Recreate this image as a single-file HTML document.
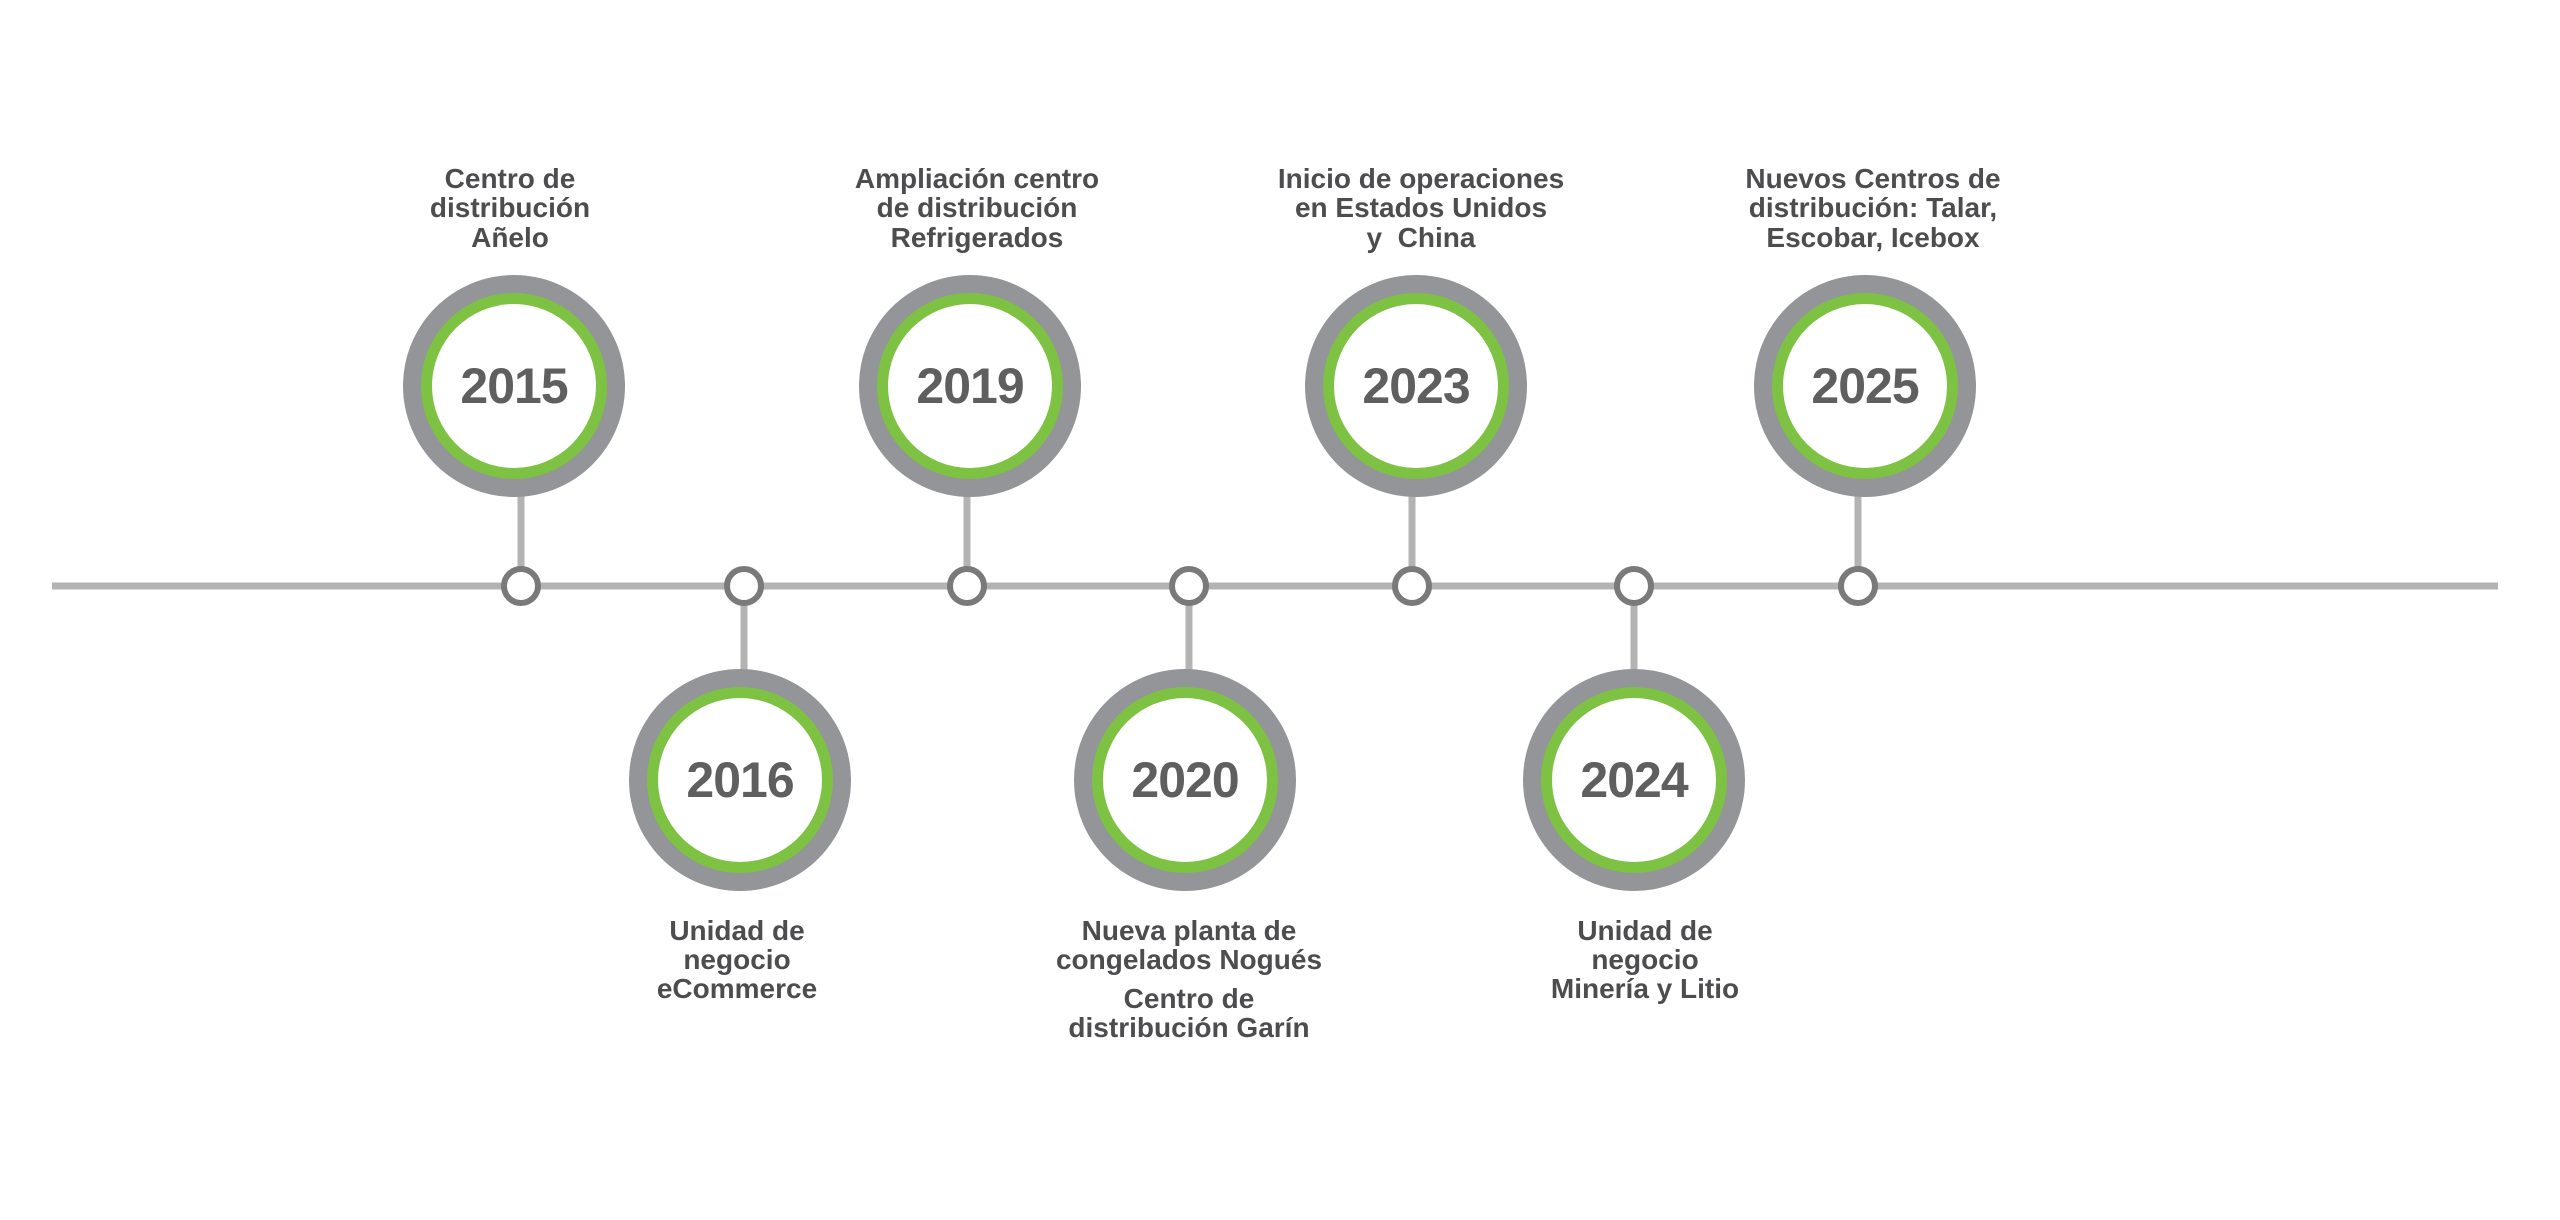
<!DOCTYPE html>
<html><head><meta charset="utf-8"><style>
html,body{margin:0;padding:0;background:#fff;}
svg{display:block;}
.lbl{font-family:"Liberation Sans",sans-serif;font-weight:bold;font-size:28px;fill:#4d4d4f;text-anchor:middle;white-space:pre;}
.yr{font-family:"Liberation Sans",sans-serif;font-weight:bold;font-size:50px;fill:#5f5f60;text-anchor:middle;letter-spacing:-1px;}
</style></head><body>
<svg width="2560" height="1220" viewBox="0 0 2560 1220" xmlns="http://www.w3.org/2000/svg">
<rect width="2560" height="1220" fill="#fff"/>
<line x1="52" y1="586" x2="2498" y2="586" stroke="#b3b3b3" stroke-width="7"/>
<g stroke="#b3b3b3" stroke-width="7">
<line x1="521" y1="495" x2="521" y2="570"/>
<line x1="967" y1="495" x2="967" y2="570"/>
<line x1="1412" y1="495" x2="1412" y2="570"/>
<line x1="1858" y1="495" x2="1858" y2="570"/>
<line x1="744" y1="602" x2="744" y2="672"/>
<line x1="1189" y1="602" x2="1189" y2="672"/>
<line x1="1634" y1="602" x2="1634" y2="672"/>
</g>
<g fill="#fff" stroke="#7a7a7a" stroke-width="6">
<circle cx="521" cy="586" r="17"/>
<circle cx="744" cy="586" r="17"/>
<circle cx="967" cy="586" r="17"/>
<circle cx="1189" cy="586" r="17"/>
<circle cx="1412" cy="586" r="17"/>
<circle cx="1634" cy="586" r="17"/>
<circle cx="1858" cy="586" r="17"/>
</g>
<g>
<g transform="translate(514,386)"><circle r="111" fill="#939598"/><circle r="93" fill="#7dc242"/><circle r="82" fill="#fff"/><text class="yr" y="17">2015</text></g>
<g transform="translate(740,780)"><circle r="111" fill="#939598"/><circle r="93" fill="#7dc242"/><circle r="82" fill="#fff"/><text class="yr" y="17">2016</text></g>
<g transform="translate(970,386)"><circle r="111" fill="#939598"/><circle r="93" fill="#7dc242"/><circle r="82" fill="#fff"/><text class="yr" y="17">2019</text></g>
<g transform="translate(1185,780)"><circle r="111" fill="#939598"/><circle r="93" fill="#7dc242"/><circle r="82" fill="#fff"/><text class="yr" y="17">2020</text></g>
<g transform="translate(1416,386)"><circle r="111" fill="#939598"/><circle r="93" fill="#7dc242"/><circle r="82" fill="#fff"/><text class="yr" y="17">2023</text></g>
<g transform="translate(1634,780)"><circle r="111" fill="#939598"/><circle r="93" fill="#7dc242"/><circle r="82" fill="#fff"/><text class="yr" y="17">2024</text></g>
<g transform="translate(1865,386)"><circle r="111" fill="#939598"/><circle r="93" fill="#7dc242"/><circle r="82" fill="#fff"/><text class="yr" y="17">2025</text></g>
</g>
<text class="lbl" x="510" y="188">Centro de</text>
<text class="lbl" x="510" y="217">distribución</text>
<text class="lbl" x="510" y="247">Añelo</text>
<text class="lbl" x="977" y="188">Ampliación centro</text>
<text class="lbl" x="977" y="217">de distribución</text>
<text class="lbl" x="977" y="247">Refrigerados</text>
<text class="lbl" x="1421" y="188">Inicio de operaciones</text>
<text class="lbl" x="1421" y="217">en Estados Unidos</text>
<text class="lbl" x="1421" y="247" xml:space="preserve">y  China</text>
<text class="lbl" x="1873" y="188">Nuevos Centros de</text>
<text class="lbl" x="1873" y="217">distribución: Talar,</text>
<text class="lbl" x="1873" y="247">Escobar, Icebox</text>
<text class="lbl" x="737" y="940">Unidad de</text>
<text class="lbl" x="737" y="969">negocio</text>
<text class="lbl" x="737" y="998">eCommerce</text>
<text class="lbl" x="1189" y="940">Nueva planta de</text>
<text class="lbl" x="1189" y="969">congelados Nogués</text>
<text class="lbl" x="1189" y="1008">Centro de</text>
<text class="lbl" x="1189" y="1037">distribución Garín</text>
<text class="lbl" x="1645" y="940">Unidad de</text>
<text class="lbl" x="1645" y="969">negocio</text>
<text class="lbl" x="1645" y="998">Minería y Litio</text>
</svg>
</body></html>
